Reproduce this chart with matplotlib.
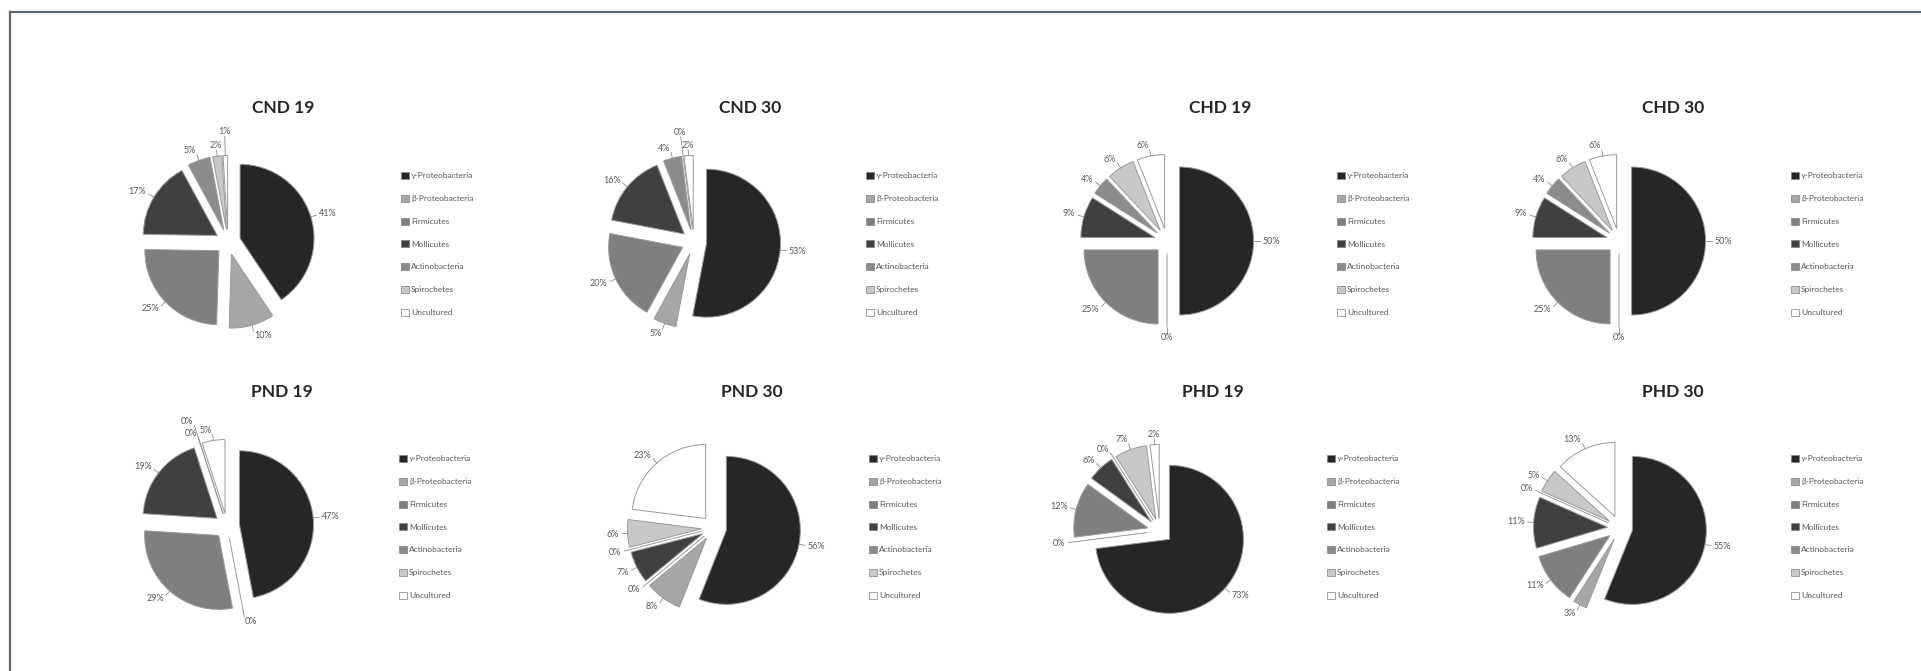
import numpy as np
import matplotlib
matplotlib.use('Agg')
import matplotlib.pyplot as plt
from matplotlib.patches import Patch
from matplotlib.lines import Line2D

plt.rcParams['font.family'] = ['Lato', 'DejaVu Sans']

# Categories and colours (same order in every pie)
categories = ['γ-Proteobacteria', 'β-Proteobacteria', 'Firmicutes', 'Mollicutes',
              'Actinobacteria', 'Spirochetes', 'Uncultured']
colors = ['#262626', '#a6a6a6', '#7f7f7f', '#404040', '#8c8c8c', '#c8c8c8', '#ffffff']

titles = ['CND 19', 'CND 30', 'CHD 19', 'CHD 30', 'PND 19', 'PND 30', 'PHD 19', 'PHD 30']

# percentages
cnd19 = [41, 10, 25, 17, 5, 2, 1]
cnd30 = [53, 5, 20, 16, 4, 0, 2]
chd19 = [50, 0, 25, 9, 4, 6, 6]
chd30 = [50, 0, 25, 9, 4, 6, 6]
pnd19 = [47, 0, 29, 19, 0, 0, 5]
pnd30 = [56, 8, 0, 7, 0, 6, 23]
phd19 = [73, 0, 12, 6, 0, 7, 2]
phd30 = [55, 3, 11, 11, 0, 5, 13]
series = [cnd19, cnd30, chd19, chd30, pnd19, pnd30, phd19, phd30]

# panel positions in pixels: pie centre, title centre, legend left
pie_x = [228, 694, 1167, 1619, 227, 714, 1160, 1620]
pie_y = [242, 242, 241, 241, 526, 528, 531, 528]
title_x = [283, 750, 1220, 1673, 282, 752, 1213, 1673]
title_y = [108, 108, 108, 108, 392, 392, 392, 392]
legend_x = [401, 866, 1337, 1791, 399, 869, 1327, 1791]
legend_y = [244, 244, 244, 244, 527, 527, 527, 527]

W, H = 1921, 671
R = 74          # pie radius in px
LIM = 1.45

fig = plt.figure(figsize=(W / 100, H / 100), dpi=100)
fig.patch.set_facecolor('white')

# chart frame (left and top edges visible)
fig.add_artist(Line2D([10 / W, 10 / W], [0, 1 - 12 / H], transform=fig.transFigure,
                      color='#5d6670', lw=1.6))
fig.add_artist(Line2D([10 / W, 1], [1 - 12 / H, 1 - 12 / H], transform=fig.transFigure,
                      color='#5d6670', lw=1.6))

S = 2 * LIM * R
for i, vals in enumerate(series):
    ax = fig.add_axes([(pie_x[i] - S / 2) / W, 1 - (pie_y[i] + S / 2) / H, S / W, S / H])
    wedges, _ = ax.pie(vals, colors=colors, startangle=90, counterclock=False,
                       explode=[0.17] * len(vals), radius=1.0,
                       wedgeprops=dict(edgecolor='#9a9a9a', linewidth=0.7))
    ax.set_xlim(-LIM, LIM)
    ax.set_ylim(-LIM, LIM)
    ax.set_aspect('equal')
    ax.axis('off')

    # percentage labels with short leader lines; crowded small ones pushed outwards
    last_ang = None
    push = 0.0
    for w, v in zip(wedges, vals):
        mid = (w.theta1 + w.theta2) / 2
        if last_ang is not None and abs(mid - last_ang) < 9:
            push = 0.18 if push == 0 else 0.0
        else:
            push = 0.0
        last_ang = mid
        ang = np.deg2rad(mid)
        dx, dy = np.cos(ang), np.sin(ang)
        cx, cy = w.center
        r_out = 1.08 + push
        ax.plot([cx + dx * 1.0, cx + dx * r_out], [cy + dy * 1.0, cy + dy * r_out],
                color='#8c8c8c', lw=0.6)
        ha = 'left' if dx > 0.15 else ('right' if dx < -0.15 else 'center')
        ax.text(cx + dx * (r_out + 0.04), cy + dy * (r_out + 0.06), f'{v}%',
                ha=ha, va='center', fontsize=6.5, color='#595959')

    fig.text(title_x[i] / W, 1 - title_y[i] / H, titles[i], ha='center', va='center',
             fontsize=12.5, fontweight='bold', color='#262626')

    handles = [Patch(facecolor=c, edgecolor='#7f7f7f', linewidth=0.5) for c in colors]
    fig.legend(handles, categories, loc='center left',
               bbox_to_anchor=(legend_x[i] / W, 1 - legend_y[i] / H),
               frameon=False, fontsize=6, labelcolor='#595959',
               handlelength=0.9, handleheight=0.9, handletextpad=0.3,
               labelspacing=1.85, borderpad=0, borderaxespad=0)

fig.savefig('out.png', dpi=100)
